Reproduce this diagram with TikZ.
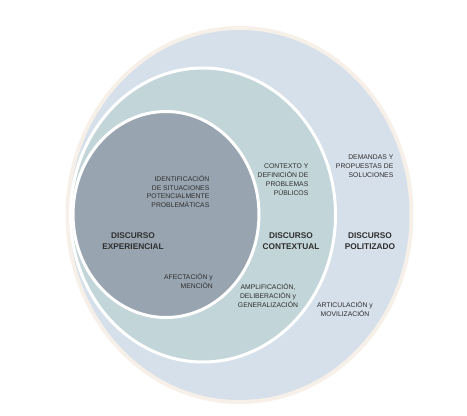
\documentclass[tikz,border=0pt]{standalone}
\usepackage{fontspec}
\setmainfont{Liberation Sans}
\definecolor{outerfill}{HTML}{D6E0EB}
\definecolor{midfill}{HTML}{C2D5D8}
\definecolor{innerfill}{HTML}{98A5B1}
\definecolor{creamedge}{HTML}{F6F0E9}
\definecolor{txt}{HTML}{2E2E2E}
\tikzset{
  small/.style={font=\fontsize{6.8}{8.9}\selectfont, text=txt, inner sep=0pt},
  title/.style={font=\fontsize{8.3}{11.5}\selectfont\bfseries, text=txt, inner sep=0pt, align=center},
  ring/.style={draw=white, line width=3pt}
}
\begin{document}
\begin{tikzpicture}[x=1pt,y=-1pt]
\useasboundingbox (0,0) rectangle (467,416);
% outer
\fill[creamedge] (239.5,215) ellipse [x radius=174, y radius=189];
\fill[outerfill] (239.5,215) ellipse [x radius=170, y radius=185];
% middle
\filldraw[fill=midfill, ring] (203,215) ellipse [x radius=132.5, y radius=147];
% inner
\filldraw[fill=innerfill, ring] (166,214.5) ellipse [x radius=93, y radius=103];

% texts
\node[small, align=right, anchor=north east] (ident) at (209.5,175) {IDENTIFICACIÓN\\DE SITUACIONES\\POTENCIALMENTE\\PROBLEMÁTICAS};
\node[title] (exp) at (133,241) {DISCURSO\\EXPERIENCIAL};
\node[small, align=right, anchor=north east] (afect) at (213,273.5) {AFECTACIÓN y\\MENCIÓN};

\node[small, align=right, anchor=north east] (ctx) at (308.5,164) {CONTEXTO Y\\DEFINICIÓN DE\\PROBLEMAS\\PÚBLICOS};
\node[title] (ctxt) at (291,241) {DISCURSO\\CONTEXTUAL};
\node[small, align=center, anchor=north] (ampl) at (268,283.5) {AMPLIFICACIÓN,\\DELIBERACIÓN y\\GENERALIZACIÓN};

\node[small, align=right, anchor=north east] (dem) at (393.5,155) {DEMANDAS Y\\PROPUESTAS DE\\SOLUCIONES};
\node[title] (pol) at (370,241) {DISCURSO\\POLITIZADO};
\node[small, align=center, anchor=north] (art) at (345,301) {ARTICULACIÓN y\\MOVILIZACIÓN};
\end{tikzpicture}
\end{document}
